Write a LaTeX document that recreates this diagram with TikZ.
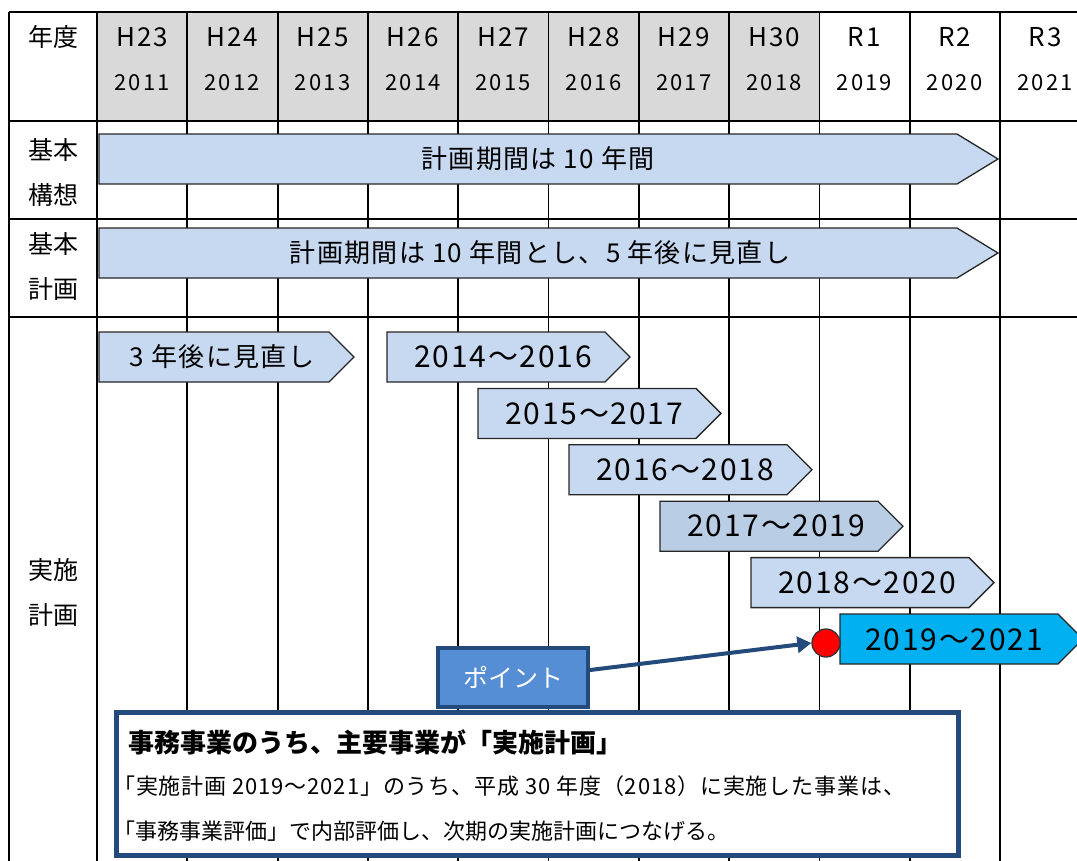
\documentclass[tikz,border=0pt]{standalone}
\usepackage{fontspec}
\setmainfont{Noto Sans CJK JP}
\usetikzlibrary{arrows.meta}
\definecolor{planblue}{HTML}{C6D9F1}
\definecolor{plandark}{HTML}{B9CDE5}
\definecolor{nowblue}{HTML}{00B0F0}
\definecolor{headgray}{HTML}{D9D9D9}
\definecolor{pointnavy}{HTML}{24497B}
\definecolor{pointblue}{HTML}{558ED5}
\newcommand{\fs}[1]{\fontsize{#1}{#1}\selectfont}
\newcommand{\wide}[1]{\addfontfeatures{LetterSpace=#1}}
% left, tip, top, depth of the point
\newcommand{\planarrow}[5][planblue]{\draw[plan,fill=#1] ({#2},{#4}) -- ({#3-#5},{#4}) -- ({#3},{#4+25}) -- ({#3-#5},{#4+50}) -- ({#2},{#4+50}) -- cycle;}

\begin{document}
\begin{tikzpicture}[x=1pt,y=-1pt,
 grid/.style={line width=1.8pt},
 plan/.style={draw=black!85,line width=1.3pt},
 rowhead/.style={font=\fontsize{25}{45}\selectfont,align=center},
 era/.style={font=\fs{26}\wide{8}},
 yearno/.style={font=\fs{22}\wide{10}},
 planlabel/.style={font=\fs{26}\wide{5}},
 yearlabel/.style={font=\fs{30}\wide{6}}]
\useasboundingbox (0,0) rectangle (1077,860);
\clip (0,0) rectangle (1077,860);
\fill[headgray] (97,12) rectangle (819,121);
\foreach \i in {0,...,10} \draw[grid] ({97+90.3*\i},12) -- ({97+90.3*\i},870);
\draw[grid] (9,12) -- (9,870);
\foreach \y in {12,121,219,317} \draw[grid] (9,\y) -- (1090,\y);
\foreach \h [count=\i from 0] in {H23,H24,H25,H26,H27,H28,H29,H30,R1,R2,R3} {
 \pgfmathtruncatemacro\yr{2011+\i}
 \node[era] (era\i) at ({142+90.3*\i},37) {\h};
 \node[yearno] (yr\i) at ({142+90.3*\i},83) {\yr};
}
\node[rowhead] (nendo) at (53,37) {年度};
\node[rowhead] (kousou) at (53,172) {基本\\構想};
\node[rowhead] (keikaku) at (53,266) {基本\\計画};
\node[rowhead] (jisshi) at (53,592) {実施\\計画};

\planarrow{99}{998}{134}{41}
\node[planlabel] (kikan) at (538,159) {計画期間は 10 年間};
\planarrow{99}{998}{228}{41}
\node[planlabel] (kikan5) at (540,253) {計画期間は 10 年間とし、5 年後に見直し};
\planarrow{99}{354}{332}{25}
\node[planlabel] (minaoshi) at (222,357) {3 年後に見直し};
\foreach \i/\c in {0/planblue,1/planblue,2/planblue,3/plandark,4/planblue} {
 \pgfmathsetmacro\xl{387+91*\i}
 \pgfmathsetmacro\yt{332+56.4*\i}
 \pgfmathtruncatemacro\a{2014+\i}
 \pgfmathtruncatemacro\b{2016+\i}
 \planarrow[\c]{\xl}{\xl+243}{\yt}{25}
 \node[yearlabel] (jisshi\a) at ({\xl+116},{\yt+25}) {\a～\b};
}
\planarrow[nowblue]{840}{1083}{614}{25}
\node[yearlabel] (jisshi2019) at (954,640) {2019～2021};

\node[draw=pointnavy,line width=4pt,fill=pointblue,minimum width=150pt,minimum height=59pt,text=white,font=\fs{25}] (point) at (513,677) {ポイント};
\node[circle,fill=red,draw=black!80,line width=1.3pt,minimum size=28pt,inner sep=0pt] (dot) at (826,643) {};
\draw[pointnavy,line width=4pt,-{Triangle[length=14pt,width=16pt]}] ([yshift=7pt]point.east) -- (dot.west);

\node[draw=pointnavy,line width=5pt,fill=white,anchor=north west,minimum width=842pt,minimum height=143pt,inner sep=0pt] (memo) at (113.5,709.5) {};
\node[anchor=west,inner sep=0pt,font=\bfseries\fs{26}] (memotitle) at (128,742) {事務事業のうち、主要事業が「実施計画」};
\node[anchor=west,inner sep=0pt,font=\fs{22}\wide{4}] (memoline1) at (113,786) {「実施計画 2019～2021」のうち、平成 30 年度（2018）に実施した事業は、};
\node[anchor=west,inner sep=0pt,font=\fs{22}] (memoline2) at (113,831) {「事務事業評価」で内部評価し、次期の実施計画につなげる。};
\end{tikzpicture}
\end{document}
